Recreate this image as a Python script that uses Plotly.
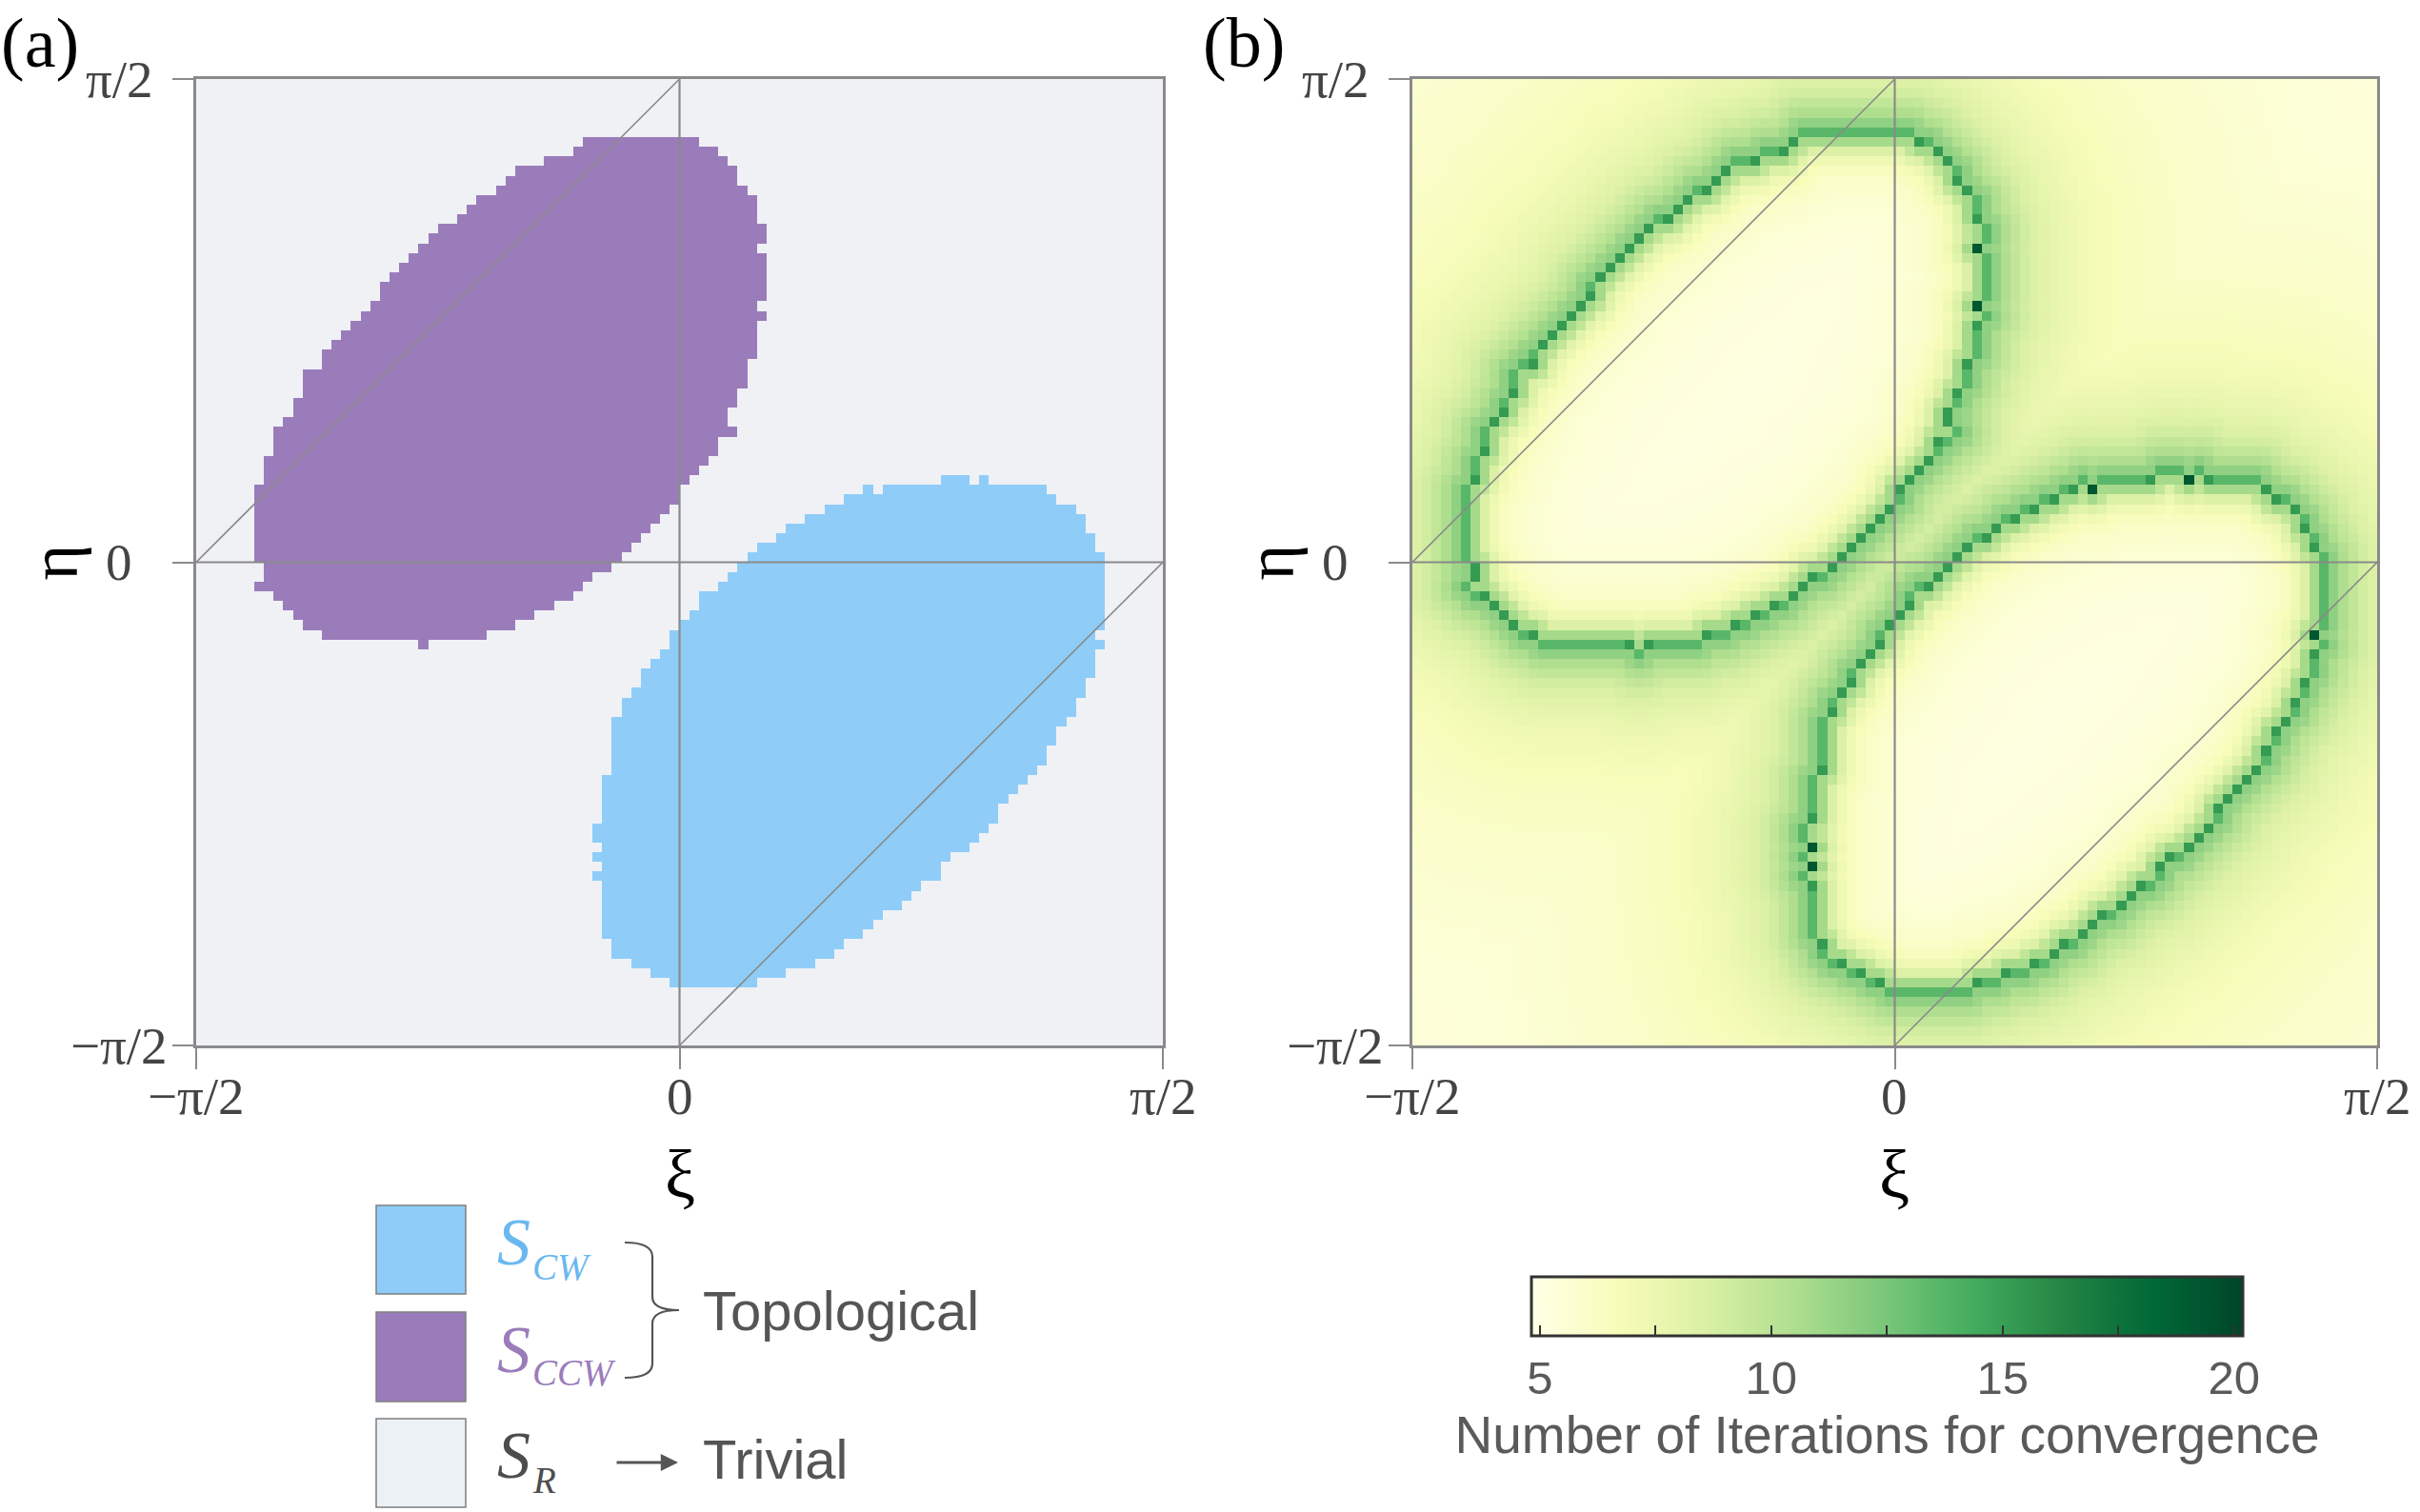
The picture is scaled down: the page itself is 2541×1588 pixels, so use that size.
import numpy as np
import plotly.graph_objects as go
import plotly.colors as pc

W, H = 2541, 1588
N = 100  # grid cells per axis, from -pi/2 to pi/2
HALF_PI = np.pi / 2

# ---- panel (a): region rows (row index from bottom, first/last column)
purple_rows = list(range(93, 40, -1))
purple_start = [40, 39, 36, 33, 32, 31, 29, 28, 27, 25,
                24, 23, 22, 21, 20, 19, 19, 18, 17, 16,
                15, 14, 13, 13, 11, 11, 11, 10, 10, 9,
                8, 8, 8, 7, 7, 7, 6, 6, 6, 6,
                6, 6, 6, 6, 7, 7, 6, 8, 9, 10,
                11, 13, 23]
purple_end = [51, 53, 54, 55, 55, 56, 57, 57, 57, 58,
              58, 57, 58, 58, 58, 58, 58, 57, 58, 57,
              57, 57, 57, 56, 56, 56, 55, 55, 54, 54,
              55, 53, 53, 52, 51, 50, 49, 49, 48, 47,
              46, 45, 44, 43, 42, 40, 39, 38, 36, 34,
              32, 29, 23]

blue_rows = [58, 58, 57, 57] + list(range(56, 5, -1))
blue_start = [77, 81, 69, 71,
              67, 65, 63, 61, 60, 58, 57, 56, 55, 54,
              52, 52, 51, 50, 49, 49, 48, 47, 46, 46,
              45, 44, 44, 43, 43, 43, 43, 43, 43, 42,
              42, 42, 42, 42, 41, 41, 42, 41, 42, 41,
              42, 42, 42, 42, 42, 42, 43, 43, 45, 47,
              49]
blue_end = [79, 81, 69, 87,
            88, 90, 91, 91, 92, 92, 93, 93, 93, 93,
            93, 93, 93, 93, 92, 93, 92, 92, 92, 91,
            91, 90, 90, 89, 88, 88, 87, 87, 86, 85,
            84, 83, 82, 82, 81, 80, 79, 77, 76, 76,
            74, 73, 72, 70, 69, 68, 66, 65, 63, 60,
            57]

# ---- panel (b): iteration levels (estimated from the colours)
# ridge cell level by how many of its 4 neighbours lie inside a region
ridge_level = {1: 13.6, 2: 15.2, 3: 19.2, 4: 19.8}
out_base, out_near, out_w1, out_far, out_w2 = 5.1, 3.2, 2.8, 3.6, 16.0
in_base, in_near, in_w1, in_far, in_w2 = 4.9, 4.2, 1.4, 2.0, 7.0

tick_vals = [-HALF_PI, 0, HALF_PI]
tick_text = ["\u2212\u03c0/2", "0", "\u03c0/2"]
cbar_vals = [5, 7.5, 10, 12.5, 15, 17.5, 20]
cbar_text = ["5", "", "10", "", "15", "", "20"]

# guide lines: the two axes through the origin and the two diagonals
guide_x0 = [0, -HALF_PI, -HALF_PI, 0]
guide_y0 = [-HALF_PI, 0, 0, -HALF_PI]
guide_x1 = [0, HALF_PI, 0, HALF_PI]
guide_y1 = [HALF_PI, 0, HALF_PI, 0]
guide_w = [2.2, 2.2, 1.6, 1.6]

col_bg, col_blue, col_purple = "#eff1f5", "#8fcdf8", "#9b7cbb"
line_col = "#8a8a8a"

# ---- grids
edges = np.linspace(-HALF_PI, HALF_PI, N + 1)
centers = (edges[:-1] + edges[1:]) / 2

region = np.zeros((N, N))
for r, a, b in zip(blue_rows, blue_start, blue_end):
    region[r, a:b + 1] = 1
for r, a, b in zip(purple_rows, purple_start, purple_end):
    region[r, a:b + 1] = 2

mask = region > 0
pad = np.pad(mask, 1).astype(int)
nb = pad[:-2, 1:-1] + pad[2:, 1:-1] + pad[1:-1, :-2] + pad[1:-1, 2:]
ridge = (~mask) & (nb > 0)
rr, rc = np.nonzero(ridge)
ii, jj = np.mgrid[0:N, 0:N]
dist = np.sqrt((ii[..., None] - rr) ** 2 + (jj[..., None] - rc) ** 2).min(axis=2)

iters = np.where(
    mask,
    in_base + in_near * np.exp(-(dist - 1) / in_w1) + in_far * np.exp(-dist / in_w2),
    out_base + out_near * np.exp(-(dist - 1) / out_w1) + out_far * np.exp(-dist / out_w2),
)
for k, v in ridge_level.items():
    iters[ridge & (nb == k)] = v


def px(x):
    return x / W


def py(y):
    return 1 - y / H


fig = go.Figure()

fig.add_trace(go.Heatmap(
    x=centers, y=centers, z=region, zmin=0, zmax=2, showscale=False,
    colorscale=[[0, col_bg], [0.33, col_bg], [0.33, col_blue], [0.67, col_blue],
                [0.67, col_purple], [1, col_purple]],
    xaxis="x", yaxis="y", hoverinfo="skip"))

fig.add_trace(go.Heatmap(
    x=centers, y=centers, z=iters, zmin=4.82, zmax=20.19,
    colorscale=pc.sequential.YlGn, xaxis="x2", yaxis="y2", hoverinfo="skip",
    colorbar=dict(
        orientation="h", x=px(1981.5), xanchor="center", y=py(1341), yanchor="top",
        len=747, lenmode="pixels", thickness=62, thicknessmode="pixels",
        outlinewidth=3, outlinecolor="#333333", xpad=0, ypad=0,
        ticks="inside", ticklen=12, tickwidth=2, tickcolor="#333333",
        tickvals=cbar_vals, ticktext=cbar_text,
        tickfont=dict(family="Liberation Sans", size=49, color="#5a5a5a"),
        title=dict(text="Number of Iterations for convergence", side="bottom",
                   font=dict(family="Liberation Sans", size=55, color="#5a5a5a")),
    )))

frames = {"": (206, 1221), "2": (1483, 2496)}
axis_style = dict(range=[-HALF_PI, HALF_PI], showgrid=False, zeroline=False,
                  showline=True, mirror=True, linecolor=line_col, linewidth=3,
                  ticks="outside", tickvals=tick_vals, ticklen=22, tickwidth=2,
                  tickcolor=line_col, showticklabels=False, fixedrange=True)
fig.update_layout(
    xaxis=dict(domain=[px(206), px(1221)], anchor="y", **axis_style),
    yaxis=dict(domain=[py(1098), py(83)], anchor="x", **axis_style),
    xaxis2=dict(domain=[px(1483), px(2496)], anchor="y2", **axis_style),
    yaxis2=dict(domain=[py(1098), py(83)], anchor="x2", **axis_style),
)

serif = "Liberation Serif"
shapes = []
annotations = []
panel_labels = {"": ("(a)", 42), "2": ("(b)", 1306)}
for s, (left, right) in frames.items():
    for x0, y0, x1, y1, w in zip(guide_x0, guide_y0, guide_x1, guide_y1, guide_w):
        shapes.append(dict(type="line", xref="x" + s, yref="y" + s, x0=x0, y0=y0,
                           x1=x1, y1=y1, line=dict(color=line_col, width=w), layer="above"))
    for v, t in zip(tick_vals, tick_text):
        annotations.append(dict(text=t, xref="paper", yref="y" + s, x=px(left - 81), y=v,
                                xanchor="center", yanchor="middle", showarrow=False,
                                font=dict(family=serif, size=55, color="#444444")))
        annotations.append(dict(text=t, xref="x" + s, yref="paper", x=v, y=py(1151),
                                xanchor="center", yanchor="middle", showarrow=False,
                                font=dict(family=serif, size=55, color="#444444")))
    annotations.append(dict(text="\u03b7", xref="paper", yref="y" + s, x=px(left - 150), y=0,
                            textangle=-90, xanchor="center", yanchor="middle", showarrow=False,
                            font=dict(family=serif, size=72, color="black")))
    annotations.append(dict(text="\u03be", xref="x" + s, yref="paper", x=0, y=py(1234),
                            xanchor="center", yanchor="middle", showarrow=False,
                            font=dict(family=serif, size=72, color="black")))
    lab, lx = panel_labels[s]
    annotations.append(dict(text=lab, xref="paper", yref="paper", x=px(lx), y=py(45),
                            xanchor="center", yanchor="middle", showarrow=False,
                            font=dict(family=serif, size=74, color="black")))

# legend of panel (a)
legend_boxes = [(1266, 1359, col_blue), (1378, 1472, col_purple), (1490, 1583, "#ebf1f4")]
for y0, y1, c in legend_boxes:
    shapes.append(dict(type="rect", xref="paper", yref="paper", x0=px(395), x1=px(489),
                       y0=py(y1), y1=py(y0), fillcolor=c, line=dict(color="#7f7f7f", width=1.5)))

legend_names = [("CW", 1304, 1330, "#6ab8f0"), ("CCW", 1417, 1441, "#9b7cbb"), ("R", 1528, 1554, "#4d4d4d")]
for sub, ys, ysub, c in legend_names:
    annotations.append(dict(text="<i>S</i>", xref="paper", yref="paper", x=px(520), y=py(ys),
                            xanchor="left", yanchor="middle", showarrow=False,
                            font=dict(family=serif, size=70, color=c)))
    annotations.append(dict(text="<i>" + sub + "</i>", xref="paper", yref="paper", x=px(557),
                            y=py(ysub), xanchor="left", yanchor="middle", showarrow=False,
                            font=dict(family=serif, size=39, color=c)))

brace = [(656, 1305), (685, 1305), (685, 1320), (685, 1362), (685, 1376), (713, 1376),
         (685, 1376), (685, 1390), (685, 1432), (685, 1447), (656, 1447)]
bp = [f"{px(x):.5f},{py(y):.5f}" for x, y in brace]
path = (f"M {bp[0]} Q {bp[1]} {bp[2]} L {bp[3]} Q {bp[4]} {bp[5]} "
        f"Q {bp[6]} {bp[7]} L {bp[8]} Q {bp[9]} {bp[10]}")
shapes.append(dict(type="path", xref="paper", yref="paper", path=path,
                   line=dict(color="#555555", width=2.2)))

annotations.append(dict(text="Topological", xref="paper", yref="paper", x=px(736), y=py(1376),
                        xanchor="left", yanchor="middle", showarrow=False,
                        font=dict(family="Liberation Sans", size=58, color="#555555")))
annotations.append(dict(text="Trivial", xref="paper", yref="paper", x=px(736), y=py(1532),
                        xanchor="left", yanchor="middle", showarrow=False,
                        font=dict(family="Liberation Sans", size=58, color="#555555")))
annotations.append(dict(text="", xref="paper", yref="paper", x=px(712), y=py(1536),
                        ax=-66, ay=0, showarrow=True, arrowhead=2, arrowsize=1.3,
                        arrowwidth=2.8, arrowcolor="#555555"))

fig.update_layout(
    width=W, height=H, autosize=False,
    margin=dict(l=0, r=0, t=0, b=0),
    paper_bgcolor="white", plot_bgcolor="white",
    shapes=shapes, annotations=annotations,
)

fig.write_html("out.html", config={"displayModeBar": False},
               post_script="document.body.style.margin='0';document.body.style.overflow='hidden';")
